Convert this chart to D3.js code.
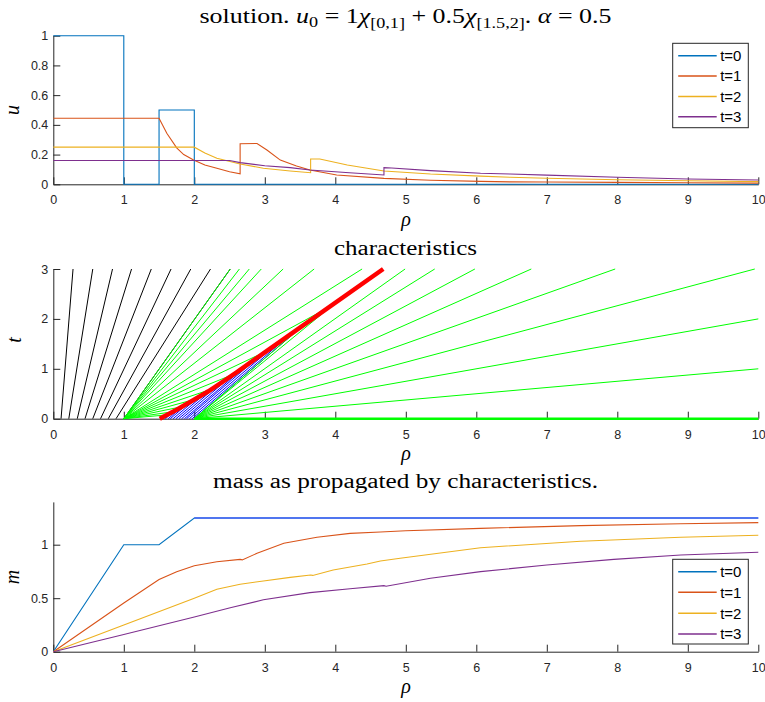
<html>
<head>
<meta charset="utf8">
<title> solution / characteristics / mass </title>
<style>
body { margin:0; background-color:white; }
</style>
<script src="https://d3js.org/d3.v7.min.js"></script>
</head>
<body>
<div id="svg"></div>
<script>

var width = 765; // canvas width
var height = 702; // canvas height

// ---- data ----
var xTicks = [0,1,2,3,4,5,6,7,8,9,10];
var uTicks = [0,0.2,0.4,0.6,0.8,1];
var tTicks = [0,1,2,3];
var mTicks = [0,0.5,1];

var seriesNames = ["t=0","t=1","t=2","t=3"];
var seriesColors = ["#0072BD","#D95319","#EDB120","#7E2F8E"];

// solution u(rho) at t = 0,1,2,3
var uT0 = [[0,1],[1,1],[1,0],[1.5,0],[1.5,0.5],[2,0.5],[2,0],[10,0]];
var uT1 = [[0,0.444],[1.5,0.444],[1.61,0.343],[1.75,0.245],[1.85,0.2],[1.99,0.164],[2.15,0.13],[2.32,0.108],
           [2.5,0.085],[2.65,0.07],[2.65,0.273],[2.89,0.275],[3.03,0.231],[3.22,0.163],[3.45,0.123],[3.64,0.096],
           [4.02,0.063],[4.69,0.04],[5.35,0.027],[6.06,0.02],[6.48,0.016],[7,0.015],[8,0.013],[9,0.01],[10,0.008]];
var uT2 = [[0,0.25],[2,0.25],[2.15,0.21],[2.32,0.175],[2.65,0.137],[2.98,0.108],[3.36,0.09],[3.65,0.078],
           [3.65,0.17],[3.78,0.17],[4.17,0.13],[4.69,0.09],[5.35,0.069],[6.06,0.055],[6.48,0.047],[7,0.041],
           [8,0.031],[9,0.024],[10,0.018]];
var uT3 = [[0,0.16],[2.5,0.16],[2.65,0.146],[3,0.125],[3.36,0.112],[3.64,0.096],[4.2,0.078],[4.69,0.063],
           [4.69,0.112],[4.8,0.11],[5.35,0.092],[6.06,0.074],[6.48,0.069],[7,0.062],[8,0.047],[9,0.036],[10,0.029]];

// characteristics: [rho at t=0, rho at end, t at end]
var blackLines = [[0.11,0.28,3],[0.22,0.56,3],[0.34,0.84,3],[0.45,1.11,3],[0.56,1.39,3],
                  [0.67,1.67,3],[0.78,1.95,3],[0.89,2.23,3],[1,2.51,3]];
var greenFan1 = [[1,2.51,3],[1,2.64,3],[1,2.78,3],[1,2.95,3],[1,3.26,3],[1,3.70,3],[1,4.38,3],
                 [1,3.80,2.15],[1,2.96,1.31],[1,2.54,0.88],[1,2.23,0.585],[1,2.0,0.385],
                 [1,1.82,0.24],[1,1.69,0.137],[1,1.61,0.076]];
var greenFan2 = [[2,3.55,1.876],[2,4.2,2.55],[2,4.99,3],[2,5.41,3],[2,5.98,3],[2,6.78,3],
                 [2,7.97,3],[2,9.95,3],[2,10,2.0],[2,10,1.0]];
var greenFlat = [[2,10,0]];
var blueLines = [[1.55,1.615,0.079],[1.59,1.72,0.158],[1.63,1.837,0.251],[1.66,1.928,0.325],
                 [1.70,2.054,0.428],[1.74,2.182,0.535],[1.78,2.352,0.693],[1.82,2.544,0.877],
                 [1.86,2.762,1.092],[1.89,2.934,1.264],[1.93,3.16,1.489],[1.97,3.383,1.711],[2.0,3.55,1.876]];
var shock = [[1.51,0],[1.75,0.18],[1.99,0.375],[2.2,0.55],[2.37,0.71],[2.6,0.93],[3,1.33],[4.68,3]];

// mass m(rho) at t = 0,1,2,3
var mT0 = [[0,0],[1,1],[1.5,1],[2,1.25],[10,1.25]];
var mTotal = [[2,1.25],[10,1.25]];
var mT1 = [[0,0],[1,0.455],[1.5,0.675],[1.75,0.748],[2,0.804],[2.32,0.841],[2.65,0.863],[2.68,0.858],
           [2.89,0.92],[3.27,1.013],[3.74,1.069],[4.21,1.106],[4.64,1.118],[5,1.13],[6.06,1.153],
           [7.48,1.178],[8.9,1.196],[10,1.206]];
var mT2 = [[0,0],[1,0.25],[2,0.5],[2.32,0.583],[2.65,0.63],[2.98,0.661],[3.36,0.695],[3.65,0.717],
           [3.68,0.713],[3.97,0.763],[4.45,0.82],[4.64,0.848],[4.92,0.873],[6.06,0.972],[7.48,1.032],
           [8.9,1.069],[10,1.088]];
var mT3 = [[0,0],[1,0.16],[2,0.325],[2.51,0.41],[2.98,0.485],[3.64,0.552],[4.21,0.589],[4.69,0.617],
           [4.72,0.612],[5.35,0.686],[6.06,0.748],[7,0.81],[7.95,0.863],[8.9,0.904],[10,0.929]];

// ---- drawing ----
var sansFont = "Liberation Sans, Arial, Helvetica, sans-serif";
var serifFont = "Liberation Serif, Times New Roman, serif";
var axisColor = "#262626";

var canvas = d3.select("#svg")
               .append("svg")
               .attr("width", width)
               .attr("height", height)
               .style("background-color", "white");

var x = d3.scaleLinear().domain([0,10]).range([53.3,758.3]);
var yU = d3.scaleLinear().domain([0,1]).range([184.3,35.7]);
var yT = d3.scaleLinear().domain([0,3]).range([418.7,269]);
var yM = d3.scaleLinear().domain([0,1.4]).range([651.7,501.9]);

function drawAxes(y, yTicks) {
    var gx = canvas.append("g")
        .attr("transform", "translate(0," + y.range()[0] + ")")
        .call(d3.axisBottom(x).tickValues(xTicks).tickFormat(function(d){ return String(d); })
              .tickSize(-7).tickSizeOuter(0).tickPadding(11));
    var gy = canvas.append("g")
        .attr("transform", "translate(" + x.range()[0] + ",0)")
        .call(d3.axisLeft(y).tickValues(yTicks).tickFormat(function(d){ return String(d); })
              .tickSize(-7).tickSizeOuter(0).tickPadding(5));
    [gx, gy].forEach(function(g){
        g.attr("font-size", 12.5).attr("font-family", sansFont);
        g.selectAll("text").attr("fill", axisColor);
        g.selectAll("line").attr("stroke", axisColor);
        g.select(".domain").attr("stroke", axisColor);
    });
}

function axisLabel(txt, px, py, rotate) {
    var t = canvas.append("text")
        .attr("x", px).attr("y", py)
        .attr("text-anchor", "middle")
        .attr("font-family", serifFont)
        .attr("font-style", "italic")
        .attr("font-size", 20)
        .attr("fill", "black")
        .text(txt);
    if (rotate) t.attr("transform", "rotate(-90," + px + "," + py + ")");
}

function legend(lx, ly, w, h, rows) {
    canvas.append("rect")
        .attr("x", lx).attr("y", ly).attr("width", w).attr("height", h)
        .style("fill", "white").style("stroke", axisColor).style("stroke-width", 1);
    for (var i = 0; i < seriesNames.length; i++) {
        canvas.append("line")
            .attr("x1", lx + 5.5).attr("x2", lx + 44)
            .attr("y1", rows[i]).attr("y2", rows[i])
            .attr("stroke", seriesColors[i]).attr("stroke-width", 1.5);
        canvas.append("text")
            .attr("x", lx + 47.5).attr("y", rows[i] + 5.2)
            .attr("font-family", sansFont).attr("font-size", 15)
            .attr("fill", "black")
            .text(seriesNames[i]);
    }
}

// ---- top: solution ----
drawAxes(yU, uTicks);
var lineU = d3.line().x(function(d){ return x(d[0]); }).y(function(d){ return yU(d[1]); });
[uT0, uT1, uT2, uT3].forEach(function(s, i){
    canvas.append("path").datum(s).attr("d", lineU)
        .attr("fill", "none").attr("stroke", seriesColors[i]).attr("stroke-width", 1.1);
});

var title1 = canvas.append("text")
    .attr("x", 405.5).attr("y", 22.5)
    .attr("text-anchor", "middle")
    .attr("font-family", serifFont).attr("font-size", 20)
    .attr("textLength", 412).attr("lengthAdjust", "spacingAndGlyphs")
    .attr("fill", "black");
title1.append("tspan").text("solution.  ");
title1.append("tspan").attr("font-style", "italic").text("u");
title1.append("tspan").attr("font-size", 14).attr("dy", 4).text("0");
title1.append("tspan").attr("dy", -4).text(" = 1");
title1.append("tspan").attr("font-style", "italic").text("χ");
title1.append("tspan").attr("font-size", 14).attr("dy", 5).text("[0,1]");
title1.append("tspan").attr("dy", -5).text(" + 0.5");
title1.append("tspan").attr("font-style", "italic").text("χ");
title1.append("tspan").attr("font-size", 14).attr("dy", 5).text("[1.5,2]");
title1.append("tspan").attr("dy", -5).text(".  ");
title1.append("tspan").attr("font-style", "italic").text("α");
title1.append("tspan").text(" = 0.5");

axisLabel("u", 19, 110, true);
axisLabel("ρ", 406, 226, false);
legend(672.7, 43.3, 75.6, 84.4, [55.7, 76, 96.4, 116.7]);

// ---- middle: characteristics ----
drawAxes(yT, tTicks);
var lineT = d3.line().x(function(d){ return x(d[0]); }).y(function(d){ return yT(d[1]); });
function drawChars(list, color, w) {
    list.forEach(function(c){
        canvas.append("path").datum([[c[0],0],[c[1],c[2]]]).attr("d", lineT)
            .attr("fill", "none").attr("stroke", color).attr("stroke-width", w);
    });
}
drawChars(blackLines, "black", 1);
drawChars(blueLines, "#0000ff", 1);
drawChars(greenFan1, "#00ff00", 1);
drawChars(greenFan2, "#00ff00", 1);
drawChars(greenFlat, "#00ff00", 2.5);
canvas.append("path").datum(shock).attr("d", lineT)
    .attr("fill", "none").attr("stroke", "#ff0000").attr("stroke-width", 4.5);

canvas.append("text")
    .attr("x", 405.5).attr("y", 255)
    .attr("text-anchor", "middle")
    .attr("font-family", serifFont).attr("font-size", 20)
    .attr("textLength", 143).attr("lengthAdjust", "spacingAndGlyphs")
    .attr("fill", "black")
    .text("characteristics");
axisLabel("t", 21, 340, true);
axisLabel("ρ", 406, 460, false);

// ---- bottom: mass ----
drawAxes(yM, mTicks);
var lineM = d3.line().x(function(d){ return x(d[0]); }).y(function(d){ return yM(d[1]); });
[mT0, mT1, mT2, mT3].forEach(function(s, i){
    canvas.append("path").datum(s).attr("d", lineM)
        .attr("fill", "none").attr("stroke", seriesColors[i]).attr("stroke-width", 1.1);
});
canvas.append("path").datum(mTotal).attr("d", lineM)
    .attr("fill", "none").attr("stroke", "#2233ff").attr("stroke-width", 1.1);

canvas.append("text")
    .attr("x", 405.5).attr("y", 487.5)
    .attr("text-anchor", "middle")
    .attr("font-family", serifFont).attr("font-size", 20)
    .attr("textLength", 385).attr("lengthAdjust", "spacingAndGlyphs")
    .attr("fill", "black")
    .text("mass as propagated by characteristics.");
axisLabel("m", 19, 577, true);
axisLabel("ρ", 406, 693, false);
legend(672.7, 559.3, 75.6, 84.7, [571.7, 592.3, 613.3, 634]);

</script>
</body>
</html>
